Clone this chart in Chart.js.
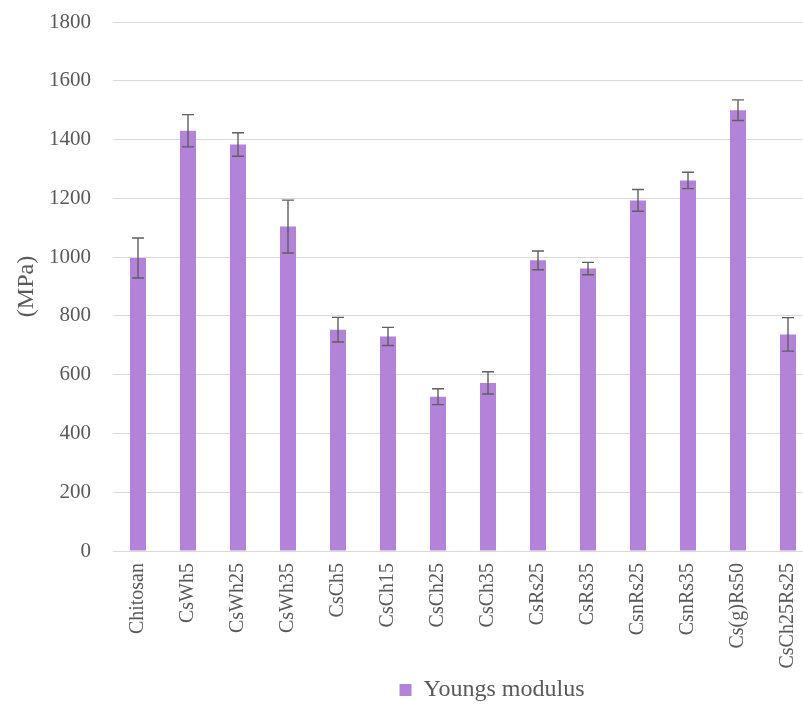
<!DOCTYPE html>
<html>
<head>
<meta charset="utf-8">
<script src="https://cdn.jsdelivr.net/npm/chart.js@4/dist/chart.umd.min.js"></script>
<style>
  html, body { margin: 0; padding: 0; background: #fff; overflow: hidden; }
  #wrap { width: 984px; height: 712px; }
</style>
</head>
<body>
<div id="wrap"><canvas id="c" width="984" height="712"></canvas></div>
<script>
// data
const categories = ['Chitosan', 'CsWh5', 'CsWh25', 'CsWh35', 'CsCh5', 'CsCh15', 'CsCh25', 'CsCh35',
    'CsRs25', 'CsRs35', 'CsnRs25', 'CsnRs35', 'Cs(g)Rs50', 'CsCh25Rs25'];
const youngsModulus = [997, 1430, 1383, 1104, 753, 730, 525, 572, 989, 961, 1193, 1261, 1500, 737];
const errors = [68, 55, 40, 90, 42, 31, 27, 38, 32, 21, 37, 28, 35, 57];
const yTicks = [0, 200, 400, 600, 800, 1000, 1200, 1400, 1600, 1800];

const BAR_COLOR = '#b383da';
const TEXT_COLOR = '#595959';
const GRID_COLOR = '#d9d9d9';
const SERIF = "'Palatino Linotype', 'Book Antiqua', 'Liberation Serif', serif";

// error bars drawn through the scales
const errorBars = {
    id: 'errorBars',
    afterDatasetsDraw(chart) {
        const ctx = chart.ctx;
        const yScale = chart.scales.y;
        const meta = chart.getDatasetMeta(0);
        ctx.save();
        ctx.strokeStyle = '#5f5f5f';
        ctx.lineWidth = 1.4;
        meta.data.forEach((bar, i) => {
            const v = youngsModulus[i], e = errors[i];
            const x = bar.x;
            const yTop = yScale.getPixelForValue(v + e);
            const yBot = yScale.getPixelForValue(v - e);
            ctx.beginPath();
            ctx.moveTo(x, yTop); ctx.lineTo(x, yBot);
            ctx.moveTo(x - 6, yTop); ctx.lineTo(x + 6, yTop);
            ctx.moveTo(x - 6, yBot); ctx.lineTo(x + 6, yBot);
            ctx.stroke();
        });
        ctx.restore();
    }
};

new Chart(document.getElementById('c'), {
    type: 'bar',
    data: {
        labels: categories,
        datasets: [{
            label: 'Youngs modulus',
            data: youngsModulus,
            backgroundColor: BAR_COLOR,
            borderWidth: 0,
            categoryPercentage: 1,
            barPercentage: 0.32
        }]
    },
    options: {
        responsive: false,
        animation: false,
        layout: { padding: { left: 0, right: 0, top: 22, bottom: 0 } },
        plugins: {
            legend: {
                position: 'bottom',
                labels: {
                    color: TEXT_COLOR,
                    font: { family: SERIF, size: 24 },
                    boxWidth: 12,
                    boxHeight: 12,
                    padding: 0
                }
            },
            tooltip: { enabled: false }
        },
        scales: {
            x: {
                grid: { display: false, drawTicks: false },
                border: { display: true, color: GRID_COLOR, width: 1 },
                ticks: {
                    color: TEXT_COLOR,
                    font: { family: SERIF, size: 20 },
                    minRotation: 90,
                    maxRotation: 90,
                    padding: 12,
                    autoSkip: false
                },
                afterFit: scale => { scale.height = 127; }
            },
            y: {
                min: 0,
                max: 1800,
                afterBuildTicks: scale => { scale.ticks = yTicks.map(v => ({ value: v })); },
                grid: { color: GRID_COLOR, lineWidth: 1, drawTicks: false },
                border: { display: false },
                ticks: {
                    color: TEXT_COLOR,
                    font: { family: SERIF, size: 21 },
                    padding: 22,
                    callback: v => String(v)
                },
                title: {
                    display: true,
                    text: '(MPa)',
                    color: TEXT_COLOR,
                    font: { family: SERIF, size: 24 },
                    padding: { top: 12, bottom: 0 }
                },
                afterFit: scale => {
                    scale.width = 113;
                    // tick padding would otherwise push the plot top down
                    scale.paddingTop = 12;
                    scale.paddingBottom = 12;
                }
            },
            // empty spacer on the right, the picture is cropped there
            spacer: {
                type: 'linear',
                position: 'right',
                grid: { display: false, drawTicks: false },
                border: { display: false },
                ticks: { display: false },
                afterFit: scale => { scale.width = 171; }
            }
        }
    },
    plugins: [errorBars]
});
</script>
</body>
</html>
